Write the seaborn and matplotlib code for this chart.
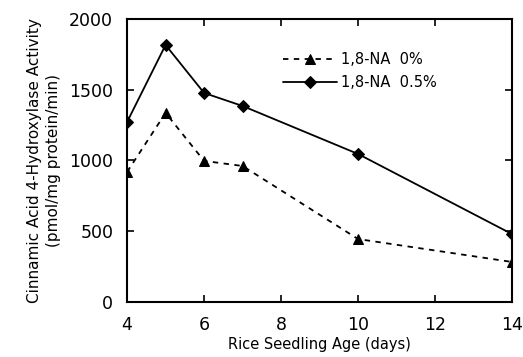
import matplotlib
matplotlib.use("Agg")
import matplotlib.pyplot as plt
import seaborn as sns
import pandas as pd

days = [4, 5, 6, 7, 10, 14]
na_0 = [919, 1336, 997, 961, 445, 283]
na_05 = [1272, 1816, 1477, 1385, 1046, 480]
labels = ["1,8-NA  0%", "1,8-NA  0.5%"]
xticks = [4, 6, 8, 10, 12, 14]
yticks = [0, 500, 1000, 1500, 2000]

sns.set_style("ticks")
plt.rcParams['font.family'] = ['DejaVu Sans']
plt.rcParams['text.color'] = 'black'
plt.rcParams['axes.labelcolor'] = 'black'

df = pd.DataFrame({
    "day": days * 2,
    "activity": na_0 + na_05,
    "series": [labels[0]] * len(days) + [labels[1]] * len(days),
})

fig = plt.figure(figsize=(5.23, 3.57), dpi=100)
ax = fig.add_axes([0.243, 0.154, 0.736, 0.793])

sns.lineplot(data=df[df.series == labels[0]], x="day", y="activity", ax=ax,
             color="black", linestyle=(0, (3, 3)), linewidth=1.3,
             marker="^", markersize=7, markeredgecolor="black", label=labels[0])
sns.lineplot(data=df[df.series == labels[1]], x="day", y="activity", ax=ax,
             color="black", linestyle="-", linewidth=1.3,
             marker="D", markersize=6, markeredgecolor="black", label=labels[1])

ax.set_xlim(4, 14)
ax.set_ylim(0, 2000)
ax.set_xticks(xticks)
ax.set_yticks(yticks)
ax.tick_params(direction="in", length=5, width=1.2, labelsize=12.5, top=True, right=True,
               pad=10, colors="black")
for s in ax.spines.values():
    s.set_linewidth(1.5)
    s.set_color("black")
ax.set_xlabel("Rice Seedling Age (days)", fontsize=10.5, labelpad=2, color="black")
ax.set_ylabel("Cinnamic Acid 4-Hydroxylase Activity\n(pmol/mg protein/min)", fontsize=11,
              labelpad=6, linespacing=1.3, color="black")
leg = ax.legend(loc="upper left", bbox_to_anchor=(0.37, 0.93), frameon=False, fontsize=10.5,
                handlelength=3.7, handletextpad=0.3, labelspacing=0.55, labelcolor="black")
fig.savefig("out.png", dpi=100)
